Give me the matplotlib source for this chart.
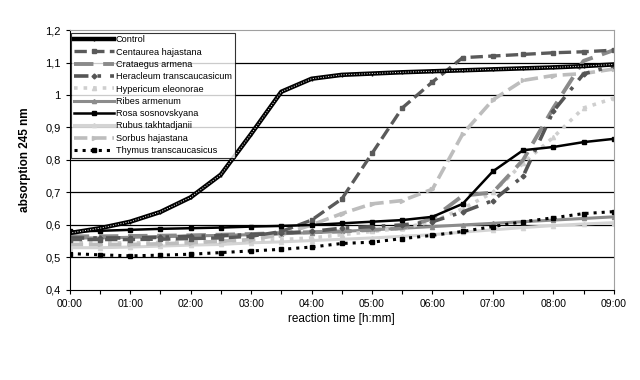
import matplotlib.pyplot as plt
import numpy as np

plt.rcParams['font.family'] = ['Liberation Sans Narrow', 'Liberation Sans', 'DejaVu Sans']

# reaction time in hours, read every half hour
hours = [0, 0.5, 1, 1.5, 2, 2.5, 3, 3.5, 4, 4.5, 5, 5.5, 6, 6.5, 7, 7.5, 8, 8.5, 9]

control = [0.575, 0.59, 0.61, 0.64, 0.685, 0.755, 0.88, 1.01, 1.05, 1.062, 1.066, 1.07, 1.073, 1.076, 1.079, 1.082, 1.085, 1.089, 1.094]
centaurea = [0.555, 0.555, 0.555, 0.556, 0.558, 0.56, 0.565, 0.58, 0.615, 0.68, 0.82, 0.96, 1.04, 1.115, 1.12, 1.125, 1.13, 1.133, 1.138]
crataegus = [0.565, 0.565, 0.566, 0.567, 0.568, 0.57, 0.572, 0.575, 0.578, 0.58, 0.585, 0.59, 0.62, 0.69, 0.70, 0.80, 0.96, 1.105, 1.138]
heracleum = [0.56, 0.56, 0.56, 0.562, 0.565, 0.567, 0.57, 0.575, 0.58, 0.59, 0.595, 0.6, 0.61, 0.64, 0.675, 0.75, 0.95, 1.065, 1.09]
hypericum = [0.545, 0.545, 0.545, 0.546, 0.548, 0.55, 0.552, 0.555, 0.56, 0.57, 0.58, 0.59, 0.61, 0.65, 0.70, 0.79, 0.87, 0.96, 0.99]
ribes = [0.56, 0.56, 0.562, 0.564, 0.566, 0.568, 0.57, 0.573, 0.576, 0.58, 0.585, 0.59, 0.595, 0.60, 0.605, 0.61, 0.615, 0.62, 0.625]
rosa = [0.58, 0.582, 0.585, 0.588, 0.59, 0.592, 0.595, 0.597, 0.60, 0.605, 0.61, 0.615, 0.625, 0.665, 0.765, 0.83, 0.84, 0.855, 0.865]
rubus = [0.53, 0.53, 0.532, 0.535, 0.538, 0.54, 0.545, 0.548, 0.552, 0.556, 0.56, 0.565, 0.57, 0.578, 0.585, 0.592, 0.598, 0.603, 0.607]
sorbus = [0.54, 0.54, 0.54, 0.542, 0.545, 0.55, 0.555, 0.57, 0.60, 0.635, 0.665, 0.675, 0.71, 0.88, 0.985, 1.045, 1.06, 1.066, 1.08]
thymus = [0.512, 0.508, 0.505, 0.507, 0.51, 0.515, 0.52, 0.525, 0.532, 0.543, 0.547, 0.558, 0.568, 0.58, 0.595, 0.61, 0.622, 0.635, 0.641]

xlabels = ["00:00", "01:00", "02:00", "03:00", "04:00", "05:00", "06:00", "07:00", "08:00", "09:00"]
ylabels = ["0,4", "0,5", "0,6", "0,7", "0,8", "0,9", "1", "1,1", "1,2"]

fig = plt.figure(figsize=(6.4, 3.8), dpi=100)
ax = fig.add_axes([0.109, 0.237, 0.85, 0.684])

# horizontal grid
for yv in np.arange(0.5, 1.15, 0.1):
    ax.axhline(yv, color="black", lw=0.9, zorder=0)

ax.plot(hours, rubus, "-", color="#d4d4d4", lw=2.2, marker="^", ms=3, label="Rubus takhtadjanii")
ax.plot(hours, ribes, "-", color="#8c8c8c", lw=2.2, marker="^", ms=3, label="Ribes armenum")
ax.plot(hours, hypericum, ":", color="#cfcfcf", lw=2.6, marker="^", ms=3, label="Hypericum eleonorae")
ax.plot(hours, sorbus, "--", color="#bdbdbd", lw=2.6, marker=">", ms=3, label="Sorbus hajastana")
ax.plot(hours, crataegus, color="#8a8a8a", lw=2.8, dashes=(5, 2.5), label="Crataegus armena")
ax.plot(hours, heracleum, color="#555555", lw=2.6, dashes=(4, 2.5, 1, 2.5), marker="D", ms=2.5, label="Heracleum transcaucasicum")
ax.plot(hours, centaurea, "--", color="#5a5a5a", lw=2.4, marker="s", ms=3, label="Centaurea hajastana")
ax.plot(hours, thymus, ":", color="black", lw=2.2, marker="s", ms=3, label="Thymus transcaucasicus")
ax.plot(hours, rosa, "-", color="black", lw=1.8, marker="s", ms=2.5, label="Rosa sosnovskyana")
ax.plot(hours, control, "-", color="black", lw=3.2, marker="|", ms=3, label="Control")
ax.plot(hours, control, ":", color="white", lw=0.7)

ax.set_xlim(0, 9)
ax.set_ylim(0.4, 1.2)
ax.set_xticks(np.arange(0, 10, 1))
ax.set_xticklabels(xlabels, fontsize=7.5)
ax.set_xticks(np.arange(0, 9.01, 0.5), minor=True)
ax.set_yticks(np.arange(0.4, 1.21, 0.1))
ax.set_yticklabels(ylabels, fontsize=8)
ax.tick_params(axis="x", which="both", direction="out", length=3, width=0.8)
ax.tick_params(axis="y", direction="out", length=3, width=0.8)

ax.spines["top"].set_color("#a0a0a0")
ax.spines["right"].set_color("#a0a0a0")
ax.spines["left"].set_color("black")
ax.spines["bottom"].set_color("black")

ax.set_xlabel("reaction time [h:mm]", fontsize=8.5, labelpad=3)
ax.set_ylabel("absorption 245 nm", fontsize=8.5, fontweight="bold", labelpad=10)

handles, labels = ax.get_legend_handles_labels()
order = ["Control", "Centaurea hajastana", "Crataegus armena", "Heracleum transcaucasicum",
         "Hypericum eleonorae", "Ribes armenum", "Rosa sosnovskyana", "Rubus takhtadjanii",
         "Sorbus hajastana", "Thymus transcaucasicus"]
hmap = dict(zip(labels, handles))
leg = ax.legend([hmap[k] for k in order], order, loc="upper left", bbox_to_anchor=(0.002, 0.99),
                fontsize=6.6, labelspacing=0.36, handlelength=4.4, handletextpad=0.2,
                borderpad=0.3, borderaxespad=0, frameon=True, fancybox=False)
leg.get_frame().set_edgecolor("black")
leg.get_frame().set_linewidth(0.8)

plt.savefig("out.png", dpi=100)
